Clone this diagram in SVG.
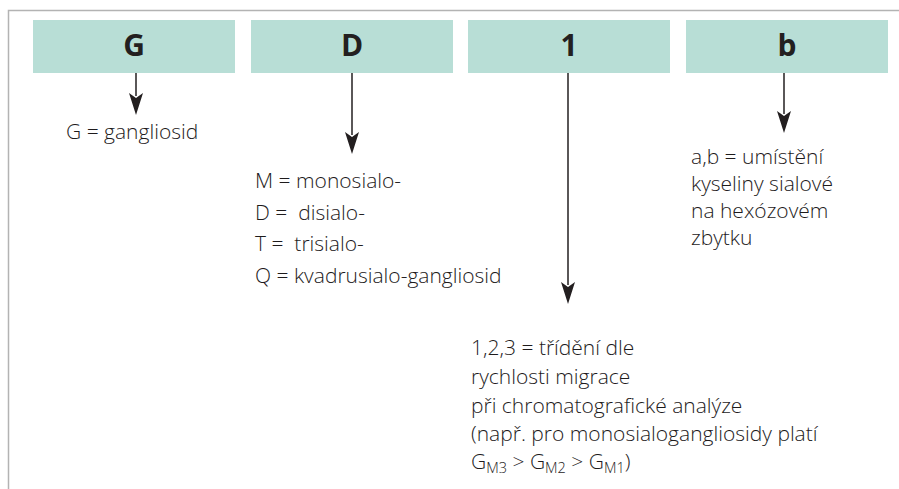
<svg xmlns="http://www.w3.org/2000/svg" width="899" height="489" viewBox="0 0 899 489">
<defs>
<style>
.box{fill:#b8ded6}
.hd{font-family:"Open Sans","Liberation Sans",sans-serif;font-weight:bold;font-size:30px;fill:#231f20;text-anchor:middle}
.tx{font-family:"Open Sans","Liberation Sans",sans-serif;font-weight:300;font-size:21px;fill:#1e1b1c;white-space:pre}
.sub{font-size:14.5px}
.ln{stroke:#231f20;stroke-width:1.5;fill:none}
</style>
</defs>
<rect width="899" height="489" fill="#fff"/>
<path d="M8.5,489 V10.5 H899" fill="none" stroke="#b3b3b3" stroke-width="1.5"/>
<g id="node-G">
<rect class="box" x="33" y="20" width="202" height="53"/>
<text class="hd" x="134" y="56">G</text>
<text class="tx" x="66" y="139">G = gangliosid</text>
</g>
<g id="node-D">
<rect class="box" x="251" y="20" width="202" height="53"/>
<text class="hd" x="352" y="56">D</text>
<text class="tx" x="255" y="188">M = monosialo-</text>
<text class="tx" x="255" y="219.5" xml:space="preserve">D =  disialo-</text>
<text class="tx" x="255" y="251" xml:space="preserve">T =  trisialo-</text>
<text class="tx" x="255" y="282.5">Q = kvadrusialo-gangliosid</text>
</g>
<g id="node-1">
<rect class="box" x="468" y="20" width="202" height="53"/>
<text class="hd" x="569" y="56">1</text>
<text class="tx" x="471" y="355">1,2,3 = třídění dle</text>
<text class="tx" x="471" y="384">rychlosti migrace</text>
<text class="tx" x="471" y="412.5">při chromatografické analýze</text>
<text class="tx" x="471" y="441">(např. pro monosialogangliosidy platí</text>
<text class="tx" x="471" y="469">G<tspan class="sub" dy="4">M3</tspan><tspan dy="-4"> &gt; G</tspan><tspan class="sub" dy="4">M2</tspan><tspan dy="-4"> &gt; G</tspan><tspan class="sub" dy="4">M1</tspan><tspan dy="-4">)</tspan></text>
</g>
<g id="node-b">
<rect class="box" x="686" y="20" width="202" height="53"/>
<text class="hd" x="787" y="56">b</text>
<text class="tx" x="691" y="164">a,b = umístění</text>
<text class="tx" x="691" y="191">kyseliny sialové</text>
<text class="tx" x="691" y="218">na hexózovém</text>
<text class="tx" x="691" y="245">zbytku</text>
</g>
<g id="connectors">
<path class="ln" d="M136,73 V96"/>
<path d="M129,93 L136,98 L143,93 L136,115 Z" fill="#231f20"/>
<path class="ln" d="M352,73 V135"/>
<path d="M345,132 L352,137 L359,132 L352,154 Z" fill="#231f20"/>
<path class="ln" d="M568,73 V285"/>
<path d="M561,282 L568,287 L575,282 L568,304 Z" fill="#231f20"/>
<path class="ln" d="M784,73 V114"/>
<path d="M777,111 L784,116 L791,111 L784,133 Z" fill="#231f20"/>
</g>
</svg>
